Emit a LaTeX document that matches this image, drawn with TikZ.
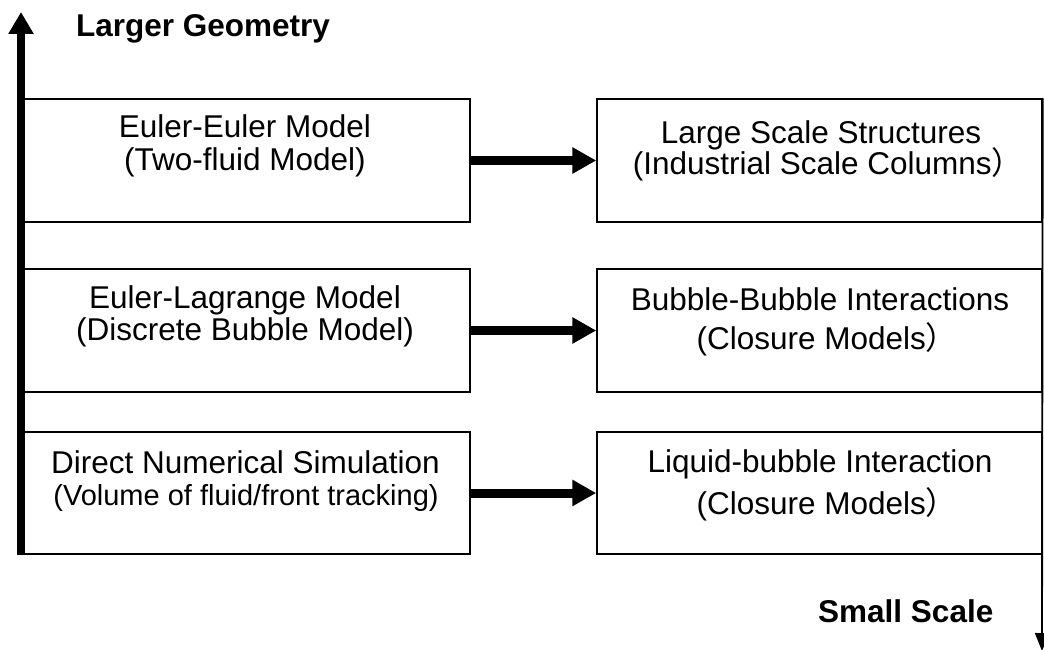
\documentclass[tikz,border=0pt]{standalone}
\usepackage{fontspec}
\setmainfont{Liberation Sans}
\newfontfamily\cjk{Noto Sans CJK SC}
\usetikzlibrary{arrows.meta}
\begin{document}
\begin{tikzpicture}[x=1pt,y=-1pt,
  box/.style={draw=black, line width=1.5pt, minimum width=446pt, minimum height=123pt, inner sep=0pt},
  txt/.style={anchor=base, inner sep=0pt, font=\fontsize{31.5}{32}\selectfont},
  small/.style={anchor=base, inner sep=0pt, font=\fontsize{29}{30}\selectfont},
  head/.style={anchor=base west, inner sep=0pt, font=\fontsize{31.5}{32}\selectfont\bfseries},
  link/.style={line width=9pt, -{Triangle[length=24pt,width=25pt]}},
  axisup/.style={line width=8pt, -{Triangle[length=22pt,width=24pt]}},
  axisdown/.style={line width=1.8pt, -{Triangle[length=18pt,width=14pt]}}]
\useasboundingbox (0,0) rectangle (1044,650);

% model boxes (left column)
\node[box] (l1) at (247,160.5) {};
\node[box] (l2) at (247,330.5) {};
\node[box, minimum height=122pt] (l3) at (247,493) {};

% phenomena boxes (right column)
\node[box, minimum width=445pt] (r1) at (819.5,160.5) {};
\node[box, minimum width=445pt] (r2) at (819.5,330.5) {};
\node[box, minimum width=445pt, minimum height=122pt] (r3) at (819.5,493) {};

% box texts
\node[txt] (l1a) at (245,138) {Euler-Euler Model};
\node[txt] (l1b) at (245,170) {(Two-fluid Model)};
\node[txt] (l2a) at (245,308) {Euler-Lagrange Model};
\node[txt] (l2b) at (245,340) {(Discrete Bubble Model)};
\node[txt] (l3a) at (245.5,473) {Direct Numerical Simulation};
\node[small] (l3b) at (246,505) {(Volume of fluid/front tracking)};
\node[txt] (r1a) at (821,143) {Large Scale Structures};
\node[txt] (r1b) at (828,175) {(Industrial Scale Columns\cjk）};
\node[txt] (r2a) at (820,310) {Bubble-Bubble Interactions};
\node[txt] (r2b) at (827,349) {(Closure Models\cjk）};
\node[txt] (r3a) at (820,472) {Liquid-bubble Interaction};
\node[txt] (r3b) at (827,514) {(Closure Models\cjk）};

% connectors between the columns
\draw[link] (l1.east) -- (r1.west);
\draw[link] (l2.east) -- (r2.west);
\draw[link] (l3.east) -- (r3.west);

% scale axes
\coordinate (axbot) at (21,555);
\coordinate (axtop) at (21,12);
\draw[axisup] (axbot) -- (axtop);
\coordinate (rend) at (1042,651);
\draw[axisdown] (r1.north east) -- (rend);

% axis labels
\node[head] (large) at (76,37) {Larger Geometry};
\node[head] (small) at (818,622) {Small Scale};
\end{tikzpicture}
\end{document}
